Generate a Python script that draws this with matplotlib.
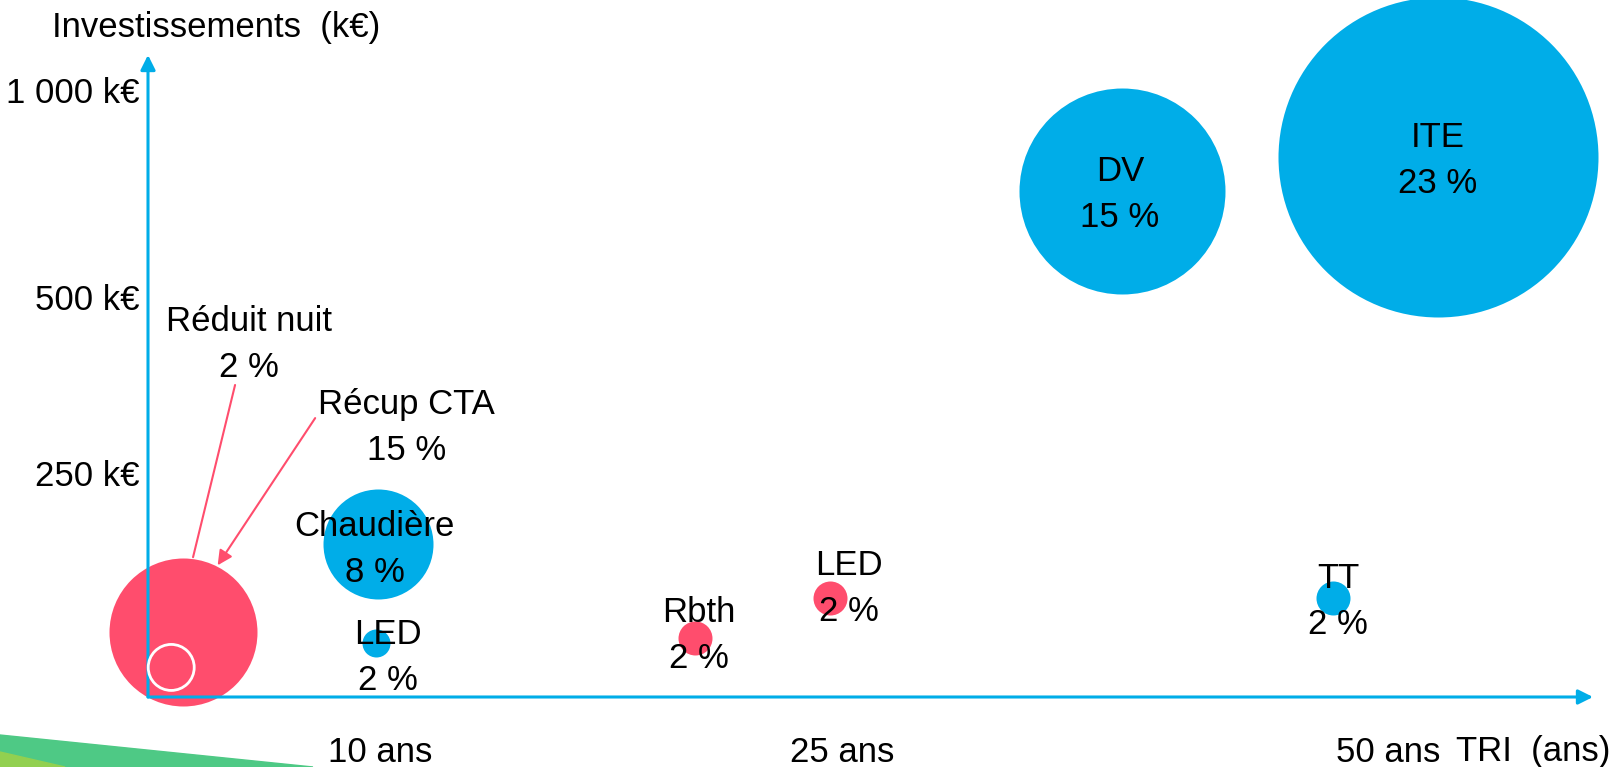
import numpy as np
import matplotlib.pyplot as plt
from matplotlib.patches import Polygon

plt.rcParams['font.family'] = ['Liberation Sans', 'DejaVu Sans']

# Actions : TRI (ans), investissement (k€), gain
actions = ['Réduit nuit', 'Récup CTA', 'Chaudière', 'LED', 'Rbth', 'LED', 'TT', 'DV', 'ITE']
gains = ['2 %', '15 %', '8 %', '2 %', '2 %', '2 %', '2 %', '15 %', '23 %']
tri = [1.0, 1.5, 9.9, 9.8, 20.2, 24.6, 47.5, 37.8, 52.3]
invest = [33, 72, 171, 60, 66, 110, 110, 756, 838]
groupe = ['rouge', 'rouge', 'bleu', 'bleu', 'rouge', 'rouge', 'bleu', 'bleu', 'bleu']

tri_ticks = [10, 25, 50]
tri_labels = ['10 ans', '25 ans', '50 ans']
inv_ticks = [250, 500, 1000]
inv_labels = ['250 k€', '500 k€', '1 000 k€']

# styles
BLUE = '#00ADE8'
RED = '#FF4D6D'
FS = 25
LS = 1.5
radius = [23, 74, 55, 14, 17, 17, 17, 103, 160]           # px
label_off = [None, None, (-3, -6), (12, -14), (4, 2), (19, 10), (5, -3), (-2, -3), (0, -3)]

# axes non lineaires (comme sur la diapo)
tri_breaks = [0, 10, 25, 50, 60]
tri_pos = [0, 232, 694, 1239, 1457]
inv_breaks = [0, 250, 500, 1000, 1100]
inv_pos = [0, 224, 400, 607, 648.4]


def fx(v):
    return np.interp(v, tri_breaks, tri_pos)


def fx_inv(p):
    return np.interp(p, tri_pos, tri_breaks)


def fy(v):
    return np.interp(v, inv_breaks, inv_pos)


def fy_inv(p):
    return np.interp(p, inv_pos, inv_breaks)


W, H = 1614, 767
fig = plt.figure(figsize=(W / 100, H / 100), dpi=100)
ax = fig.add_axes([148 / W, 70 / H, 1445 / W, 642 / H])
ax.set_xscale('function', functions=(fx, fx_inv))
ax.set_yscale('function', functions=(fy, fy_inv))
ax.set_xlim(0, 59.4)
ax.set_ylim(0, 1084.5)
for s in ax.spines.values():
    s.set_visible(False)

# bulles
for i in range(len(actions)):
    size = (1.44 * radius[i]) ** 2
    if i == 0:
        ax.scatter(tri[i], invest[i], s=size, facecolor='none', edgecolor='white',
                   linewidths=2, zorder=4, clip_on=False)
        continue
    col = RED if groupe[i] == 'rouge' else BLUE
    ax.scatter(tri[i], invest[i], s=size, color=col, linewidths=0, zorder=1, clip_on=False)
    if label_off[i] is not None:
        ax.annotate(actions[i] + '\n' + gains[i], (tri[i], invest[i]),
                    xytext=label_off[i], textcoords='offset pixels',
                    ha='center', va='center', fontsize=FS, linespacing=LS, zorder=5)

# axes avec fleches
ax.annotate('', xy=(0, 1), xytext=(0, 0), xycoords='axes fraction',
            arrowprops=dict(arrowstyle='-|>', color=BLUE, lw=2.2, mutation_scale=22,
                            shrinkA=0, shrinkB=0), zorder=2)
ax.annotate('', xy=(1, 0), xytext=(0, 0), xycoords='axes fraction',
            arrowprops=dict(arrowstyle='-|>', color=BLUE, lw=2.2, mutation_scale=22,
                            shrinkA=0, shrinkB=0), zorder=2)

# etiquettes avec fleches (Réduit nuit, Récup CTA)
ax.annotate('', xy=(1.94, 156), xytext=(3.75, 375),
            arrowprops=dict(arrowstyle='-', color=RED, lw=1.5, shrinkA=0, shrinkB=0))
ax.text(4.35, 433, actions[0] + '\n' + gains[0], ha='center', va='center',
        fontsize=FS, linespacing=LS)
ax.annotate('', xy=(3.0, 147), xytext=(7.2, 328),
            arrowprops=dict(arrowstyle='-|>', color=RED, lw=1.5, mutation_scale=22,
                            shrinkA=0, shrinkB=0))
ax.text(10.85, 314, actions[1] + '\n' + gains[1], ha='center', va='center',
        fontsize=FS, linespacing=LS)

ax.set_xticks(tri_ticks)
ax.set_xticklabels(tri_labels, fontsize=FS)
ax.set_yticks(inv_ticks)
ax.set_yticklabels(inv_labels, fontsize=FS)
ax.tick_params(axis='x', length=0, pad=28)
ax.tick_params(axis='y', length=0, pad=6)

fig.text(216 / W, 1 - 28 / H, 'Investissements  (k€)', ha='center', va='center', fontsize=FS)
fig.text(1533 / W, 1 - 752 / H, 'TRI  (ans)', ha='center', va='center', fontsize=FS)

# bande decorative en bas a gauche
fig.patches.append(Polygon([(0, 0), (0, 32 / H), (313 / W, 0)], closed=True,
                           transform=fig.transFigure, color='#4EC985', zorder=0))
fig.patches.append(Polygon([(0, 0), (0, 15 / H), (65 / W, 0)], closed=True,
                           transform=fig.transFigure, color='#92D050', zorder=0))

fig.savefig('out.png', dpi=100)
